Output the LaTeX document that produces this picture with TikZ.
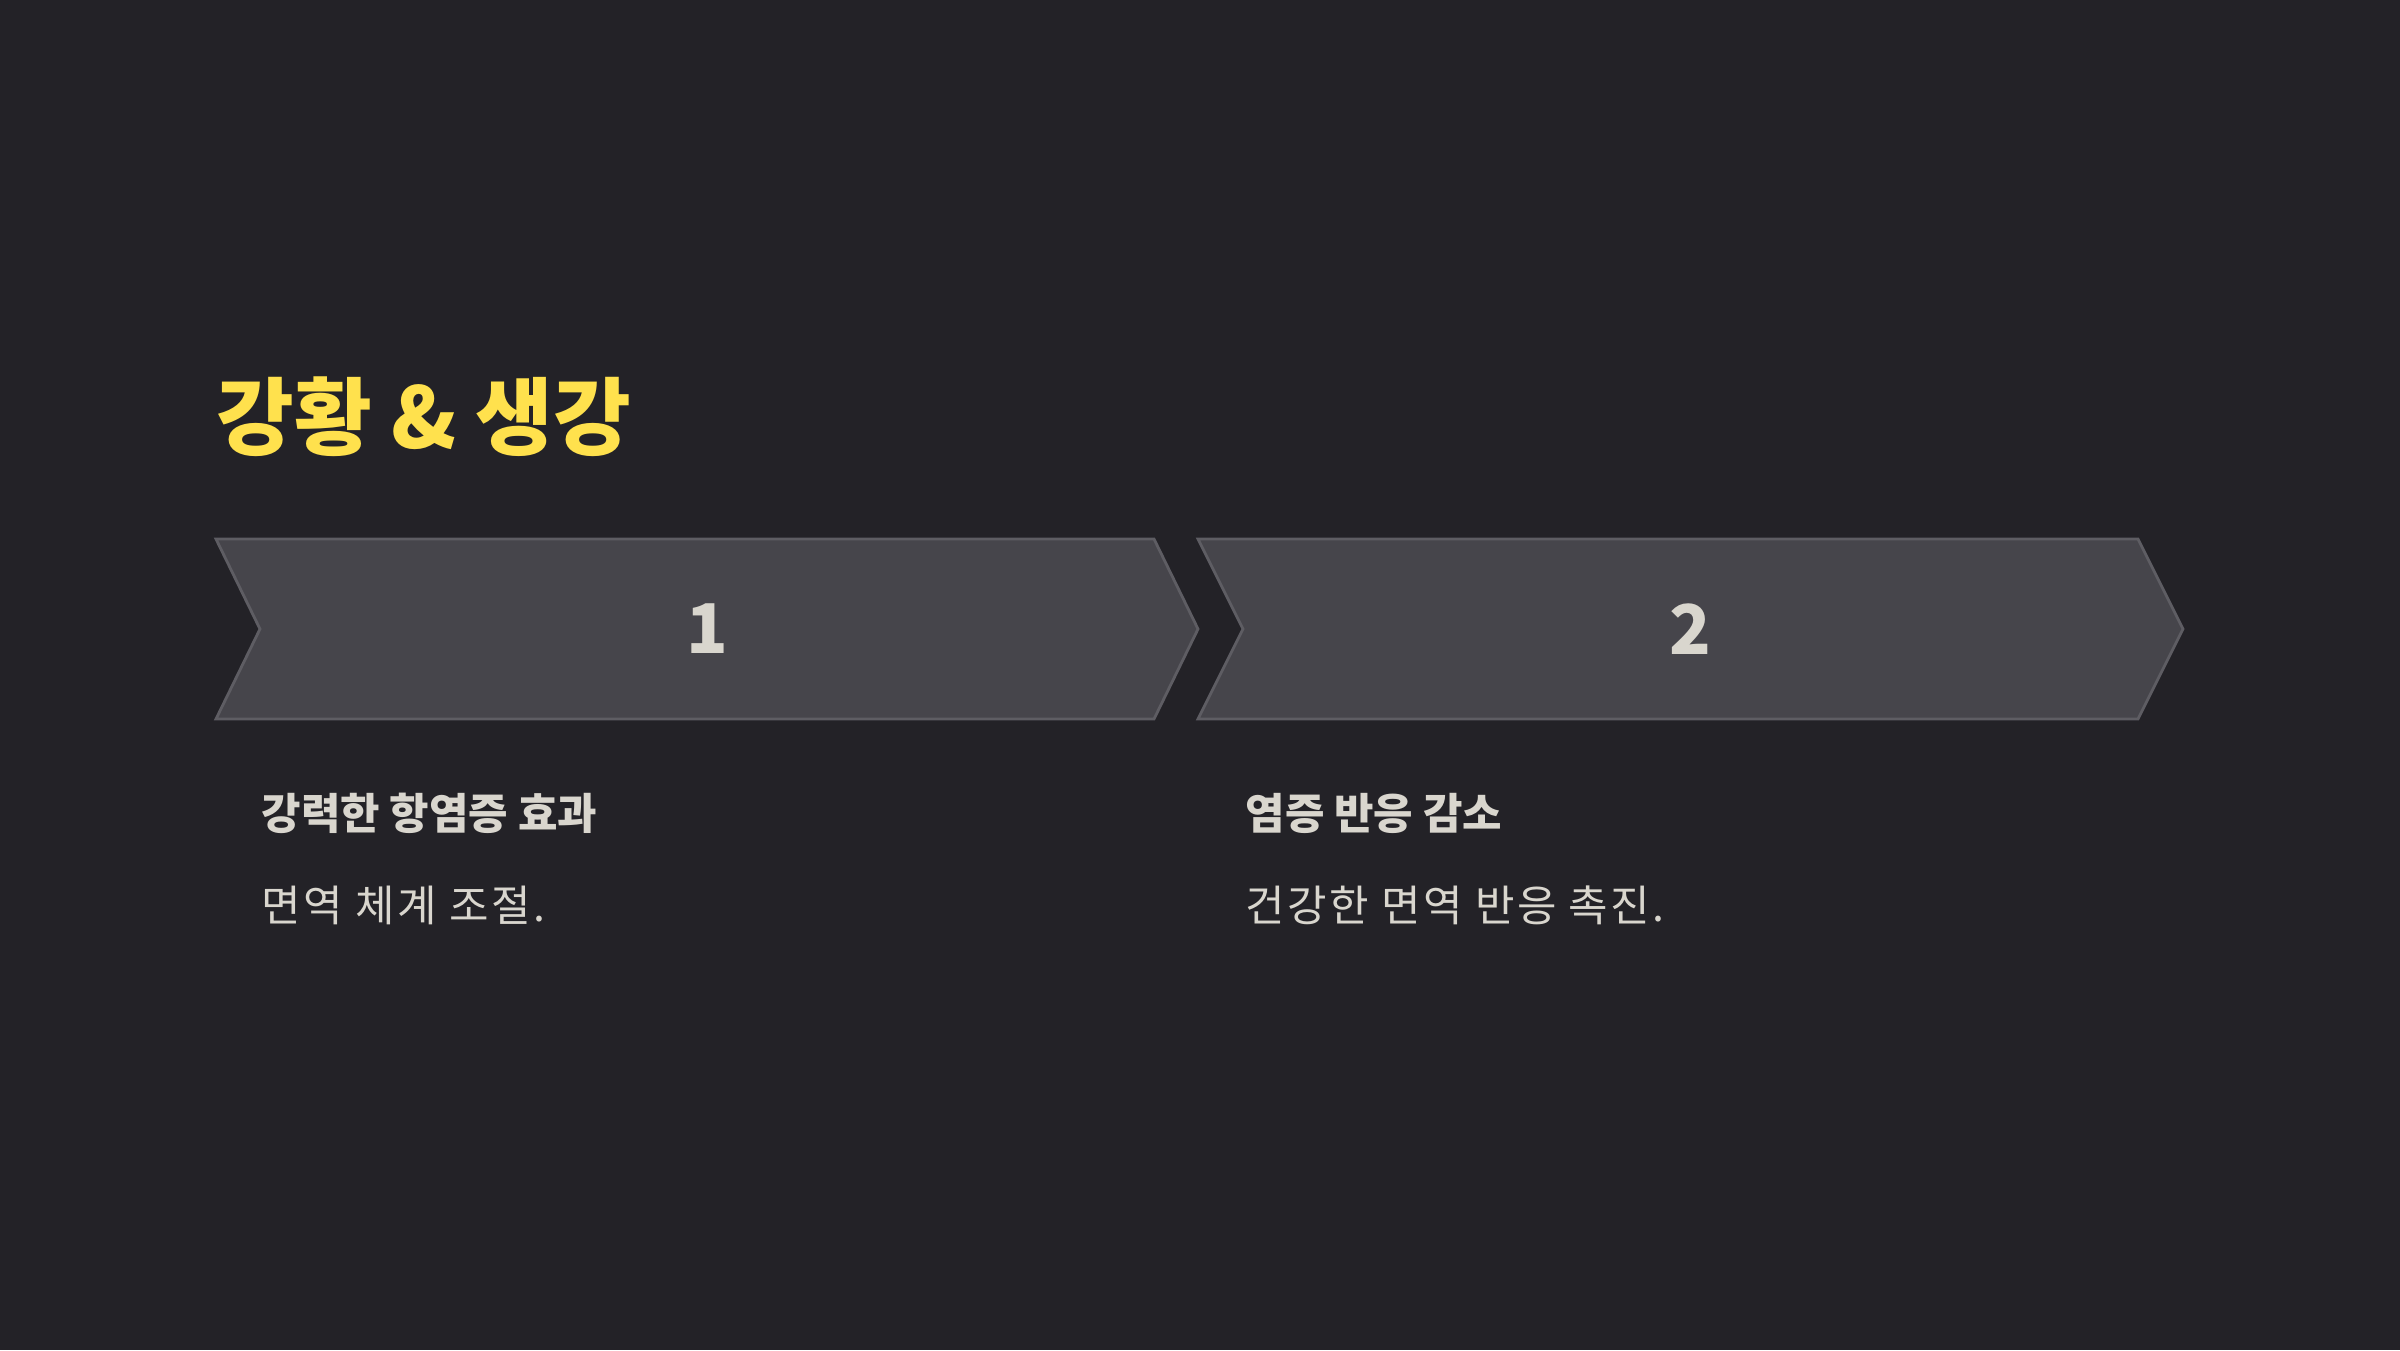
\documentclass[tikz,border=0pt]{standalone}
\usepackage{fontspec}
\setmainfont{Noto Sans CJK KR}
\usetikzlibrary{positioning}

\definecolor{bgdark}{HTML}{232227}
\definecolor{chevfill}{HTML}{46454B}
\definecolor{chevline}{HTML}{5E5D63}
\definecolor{titleyellow}{HTML}{FFE14D}
\definecolor{paletext}{HTML}{D9D6CE}

\begin{document}
\begin{tikzpicture}[x=0.01cm, y=-0.01cm, node distance=14.5pt,
		chevron/.style={
			draw=chevline,
			fill=chevfill,
			line width=0.8pt,
			line join=miter
		},
		stepnum/.style={
			text=paletext,
			font=\fontsize{19.5}{23}\selectfont\bfseries,
			inner sep=0pt
		},
		title/.style={
			text=titleyellow,
			font=\fontsize{24}{29}\selectfont\bfseries,
			inner sep=0pt,
			anchor=west
		},
		head/.style={
			text=paletext,
			font=\fontsize{12.2}{15}\selectfont\bfseries,
			inner sep=0pt,
			anchor=west
		},
		desc/.style={
			text=paletext,
			font=\fontsize{12.2}{15}\selectfont\addfontfeatures{LetterSpace=6},
			inner sep=0pt
		}]

		\fill[bgdark] (0,0) rectangle (2400,1350);
		\useasboundingbox (0,0) rectangle (2400,1350);

		\node [title] (title) at (216,417) {강황 \& 생강};

		% chevrons
		\draw [chevron] (216,539) -- (1154,539) -- (1198,629) -- (1154,719) -- (216,719) -- (260,629) -- cycle;
		\draw [chevron] (1198,539) -- (2138,539) -- (2183,629) -- (2138,719) -- (1198,719) -- (1243,629) -- cycle;

		\node [stepnum] (num1) at (707,629) {1};
		\node [stepnum] (num2) at (1690,629) {2};

		% texts below
		\node [head] (head1) at (261,813) {강력한 항염증 효과};
		\node [desc, below=of head1.south west, anchor=north west] (desc1) {면역 체계 조절.};

		\node [head] (head2) at (1245,813) {염증 반응 감소};
		\node [desc, below=of head2.south west, anchor=north west] (desc2) {건강한 면역 반응 촉진.};
	\end{tikzpicture}
\end{document}
